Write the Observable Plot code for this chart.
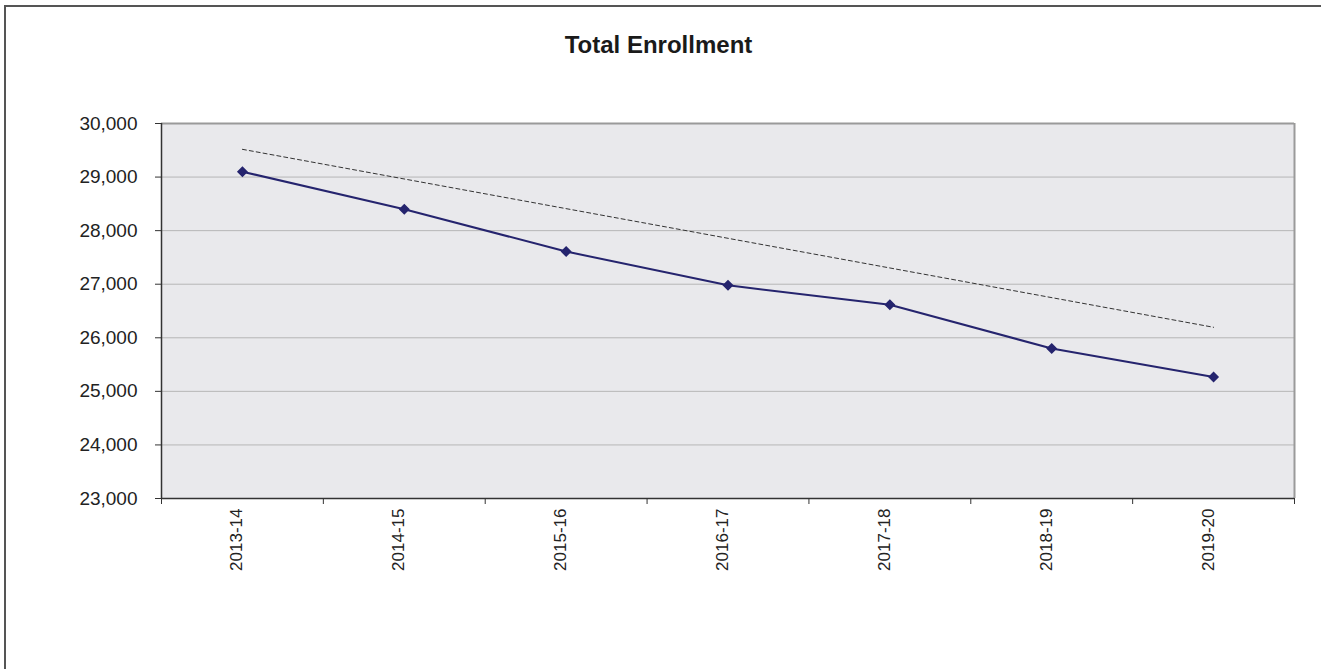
<!DOCTYPE html>
<html>
<head>
<meta charset="utf-8">
<script src="https://cdn.jsdelivr.net/npm/d3@7"></script>
<script src="https://cdn.jsdelivr.net/npm/@observablehq/plot@0.6"></script>
<style>
  body { margin: 0; overflow: hidden; background: #fff; font-family: "Liberation Sans", Arial, sans-serif; }
  #wrap { position: relative; width: 1321px; height: 669px; overflow: hidden; }
  #border { position: absolute; left: 4px; top: 5px; width: 1400px; height: 800px; border-left: 2px solid #555; border-top: 2px solid #555; box-sizing: border-box; }
  #title { position: absolute; left: 0; top: 31px; width: 1317px; text-align: center; font-weight: bold; font-size: 24px; color: #1a1a1a; }
  #chart { position: absolute; left: 0; top: 0; }
</style>
</head>
<body>
<div id="wrap">
  <div id="border"></div>
  <div id="chart"></div>
  <div id="title">Total Enrollment</div>
</div>
<script>
const categories = ["2013-14", "2014-15", "2015-16", "2016-17", "2017-18", "2018-19", "2019-20"];
const enrollment = [29100, 28400, 27610, 26980, 26615, 25800, 25270];
const trendCategories = ["2013-14", "2019-20"];
const trendValues = [29518, 26196];
const yTicks = [23000, 24000, 25000, 26000, 27000, 28000, 29000, 30000];

const idx = c => categories.indexOf(c) + 0.5;
const points = categories.map((c, i) => ({c, v: enrollment[i]}));
const trend = trendCategories.map((c, i) => ({c, v: trendValues[i]}));
const boundaries = d3.range(categories.length + 1);

const navy = "#25246e";
const textColor = "#222";

const chart = Plot.plot({
  width: 1321,
  height: 669,
  marginLeft: 161,
  marginRight: 27,
  marginTop: 123,
  marginBottom: 171,
  style: {fontFamily: "'Liberation Sans', Arial, sans-serif", background: "transparent", color: textColor},
  x: {type: "linear", domain: [0, categories.length], label: null},
  y: {domain: [23000, 30000], label: null},
  marks: [
    Plot.frame({fill: "#e9e9ec", stroke: null}),
    Plot.ruleY(yTicks.slice(1, -1), {stroke: "#b6b6b6", strokeWidth: 1}),
    Plot.ruleY([30000], {stroke: "#9a9a9a", strokeWidth: 2}),
    Plot.ruleX([categories.length], {stroke: "#9a9a9a", strokeWidth: 2}),
    Plot.axisY({ticks: yTicks, tickFormat: d3.format(","), tickSize: 6, tickPadding: 18, fontSize: 19, stroke: "#333", fill: textColor, label: null}),
    Plot.axisX({ticks: boundaries, tickFormat: () => "", tickSize: 6, stroke: "#333", label: null}),
    Plot.ruleX([0], {stroke: "#333", strokeWidth: 1.5}),
    Plot.ruleY([23000], {stroke: "#333", strokeWidth: 1.5}),
    Plot.text(categories, {x: d => idx(d), text: d => d, frameAnchor: "bottom", rotate: -90, textAnchor: "end", dy: 10, fontSize: 17, fill: textColor}),
    Plot.line(trend, {x: d => idx(d.c), y: "v", stroke: "#333", strokeWidth: 1, strokeDasharray: "4,3"}),
    Plot.line(points, {x: d => idx(d.c), y: "v", stroke: navy, strokeWidth: 2}),
    Plot.dot(points, {x: d => idx(d.c), y: "v", symbol: "diamond2", fill: navy, stroke: navy, r: 4})
  ]
});
document.getElementById("chart").appendChild(chart);
</script>
</body>
</html>
